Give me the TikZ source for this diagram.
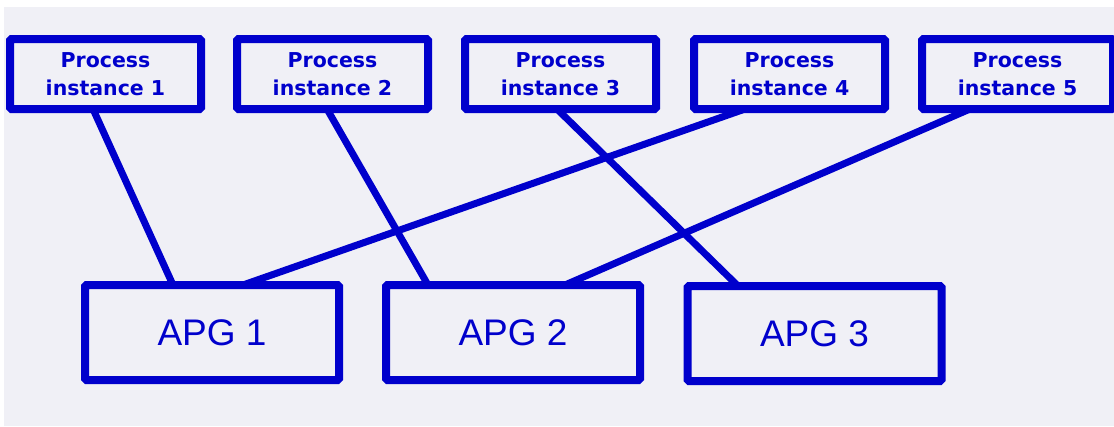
\documentclass[tikz,border=0pt]{standalone}
\usepackage{fontspec}
\setmainfont{Liberation Sans}
\newfontfamily\procfont{DejaVu Sans}
\definecolor{boxblue}{RGB}{0,0,204}
\definecolor{bgpale}{RGB}{240,240,246}
\begin{document}
\begin{tikzpicture}[x=1pt,y=-1pt,
  procbox/.style={draw=boxblue, line width=8pt, rounded corners=1.5pt, minimum width=191pt, minimum height=70pt, inner sep=0pt, outer sep=0pt, align=center, text=boxblue, font=\procfont\bfseries\fontsize{20.5}{28}\selectfont},
  apgbox/.style={draw=boxblue, line width=8pt, rounded corners=1.5pt, minimum width=254pt, minimum height=95pt, inner sep=0pt, outer sep=0pt, text=boxblue, font=\fontsize{37}{40}\selectfont},
  link/.style={draw=boxblue, line width=7pt}]
\useasboundingbox (0,0) rectangle (1114,426);
\fill[bgpale] (4,7) rectangle (1114,426);
\node[procbox] (p1) at (105.5,74) {Process\\instance 1};
\node[procbox] (p2) at (332.5,74) {Process\\instance 2};
\node[procbox] (p3) at (560.5,74) {Process\\instance 3};
\node[procbox] (p4) at (789.5,74) {Process\\instance 4};
\node[procbox] (p5) at (1017.5,74) {Process\\instance 5};
\node[apgbox] (a1) at (212,332.5) {APG 1};
\node[apgbox] (a2) at (513,332.5) {APG 2};
\node[apgbox] (a3) at (814.5,333.5) {APG 3};
\draw[link] ([xshift=-12.5pt]p1.south) -- ([xshift=-39pt]a1.north);
\draw[link] ([xshift=-5.5pt]p2.south) -- ([xshift=-85pt]a2.north);
\draw[link] ([xshift=-3.5pt]p3.south) -- ([xshift=-76.5pt]a3.north);
\draw[link] ([xshift=-44.5pt]p4.south) -- ([xshift=31pt]a1.north);
\draw[link] ([xshift=-47.5pt]p5.south) -- ([xshift=52pt]a2.north);
\end{tikzpicture}
\end{document}
